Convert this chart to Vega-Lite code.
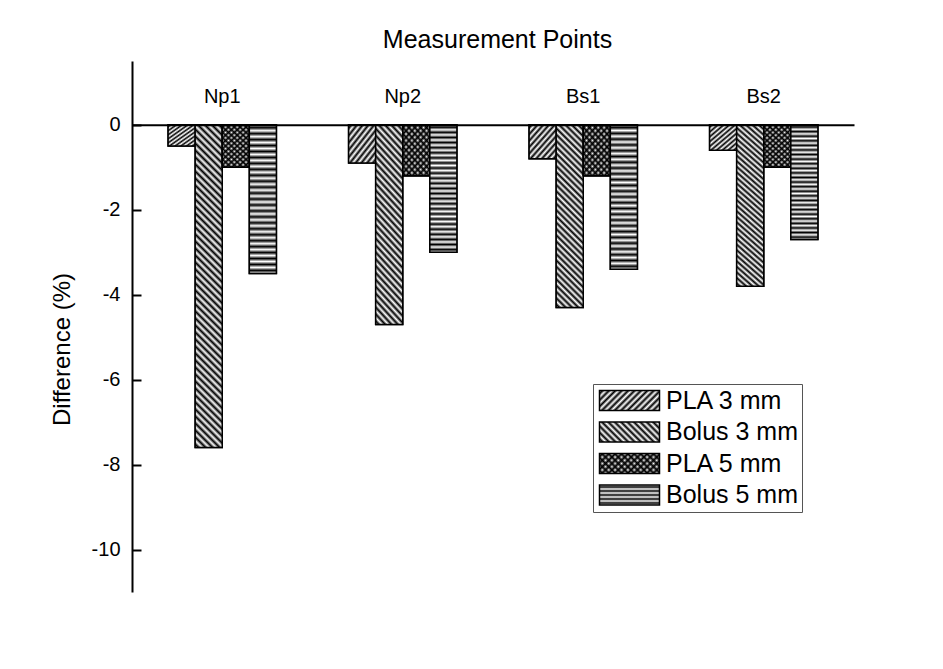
{
"$schema": "https://vega.github.io/schema/vega-lite/v6.json",
"width": 722, "height": 531,
"autosize": "none",
"padding": {"left": 132, "top": 61, "right": 89, "bottom": 77},
"background": "white",
"config": {"font": "Liberation Sans", "view": {"stroke": null}},
"params": [
{"name": "g7", "value": {"gradient":"linear","x1":0,"y1":0,"x2":1.2,"y2":0.4,"stops":[{"offset":0,"color":"white"},{"offset":0.04,"color":"black"},{"offset":0.08,"color":"white"},{"offset":0.12,"color":"black"},{"offset":0.16,"color":"white"},{"offset":0.2,"color":"black"},{"offset":0.24,"color":"white"},{"offset":0.28,"color":"black"},{"offset":0.32,"color":"white"},{"offset":0.36,"color":"black"},{"offset":0.4,"color":"white"},{"offset":0.44,"color":"black"},{"offset":0.48,"color":"white"},{"offset":0.52,"color":"black"},{"offset":0.56,"color":"white"},{"offset":0.6,"color":"black"},{"offset":0.64,"color":"white"},{"offset":0.68,"color":"black"},{"offset":0.72,"color":"white"},{"offset":0.76,"color":"black"},{"offset":0.8,"color":"white"},{"offset":0.84,"color":"black"},{"offset":0.88,"color":"white"},{"offset":0.92,"color":"black"},{"offset":0.96,"color":"white"},{"offset":1,"color":"black"}]}},
{"name": "g7t", "value": {"gradient":"linear","x1":0,"y1":0,"x2":1.2,"y2":0.4,"stops":[{"offset":0,"color":"transparent"},{"offset":0.04,"color":"black"},{"offset":0.08,"color":"transparent"},{"offset":0.12,"color":"black"},{"offset":0.16,"color":"transparent"},{"offset":0.2,"color":"black"},{"offset":0.24,"color":"transparent"},{"offset":0.28,"color":"black"},{"offset":0.32,"color":"transparent"},{"offset":0.36,"color":"black"},{"offset":0.4,"color":"transparent"},{"offset":0.44,"color":"black"},{"offset":0.48,"color":"transparent"},{"offset":0.52,"color":"black"},{"offset":0.56,"color":"transparent"},{"offset":0.6,"color":"black"},{"offset":0.64,"color":"transparent"},{"offset":0.68,"color":"black"},{"offset":0.72,"color":"transparent"},{"offset":0.76,"color":"black"},{"offset":0.8,"color":"transparent"},{"offset":0.84,"color":"black"},{"offset":0.88,"color":"transparent"},{"offset":0.92,"color":"black"},{"offset":0.96,"color":"transparent"},{"offset":1,"color":"black"}]}},
{"name": "g8", "value": {"gradient":"linear","x1":0,"y1":1,"x2":1.2,"y2":0.6,"stops":[{"offset":0,"color":"white"},{"offset":0.04,"color":"black"},{"offset":0.08,"color":"white"},{"offset":0.12,"color":"black"},{"offset":0.16,"color":"white"},{"offset":0.2,"color":"black"},{"offset":0.24,"color":"white"},{"offset":0.28,"color":"black"},{"offset":0.32,"color":"white"},{"offset":0.36,"color":"black"},{"offset":0.4,"color":"white"},{"offset":0.44,"color":"black"},{"offset":0.48,"color":"white"},{"offset":0.52,"color":"black"},{"offset":0.56,"color":"white"},{"offset":0.6,"color":"black"},{"offset":0.64,"color":"white"},{"offset":0.68,"color":"black"},{"offset":0.72,"color":"white"},{"offset":0.76,"color":"black"},{"offset":0.8,"color":"white"},{"offset":0.84,"color":"black"},{"offset":0.88,"color":"white"},{"offset":0.92,"color":"black"},{"offset":0.96,"color":"white"},{"offset":1,"color":"black"}]}},
{"name": "g10", "value": {"gradient":"linear","x1":0,"y1":0,"x2":0,"y2":1,"stops":[{"offset":0,"color":"white"},{"offset":0.1,"color":"black"},{"offset":0.2,"color":"white"},{"offset":0.3,"color":"black"},{"offset":0.4,"color":"white"},{"offset":0.5,"color":"black"},{"offset":0.6,"color":"white"},{"offset":0.7,"color":"black"},{"offset":0.8,"color":"white"},{"offset":0.9,"color":"black"},{"offset":1,"color":"white"}]}}
],
"data": {"values": [
{"point":"Np1","series":"PLA 3 mm","value":-0.5},
{"point":"Np1","series":"Bolus 3 mm","value":-7.6},
{"point":"Np1","series":"PLA 5 mm","value":-1.0},
{"point":"Np1","series":"Bolus 5 mm","value":-3.5},
{"point":"Np2","series":"PLA 3 mm","value":-0.9},
{"point":"Np2","series":"Bolus 3 mm","value":-4.7},
{"point":"Np2","series":"PLA 5 mm","value":-1.2},
{"point":"Np2","series":"Bolus 5 mm","value":-3.0},
{"point":"Bs1","series":"PLA 3 mm","value":-0.8},
{"point":"Bs1","series":"Bolus 3 mm","value":-4.3},
{"point":"Bs1","series":"PLA 5 mm","value":-1.2},
{"point":"Bs1","series":"Bolus 5 mm","value":-3.4},
{"point":"Bs2","series":"PLA 3 mm","value":-0.6},
{"point":"Bs2","series":"Bolus 3 mm","value":-3.8},
{"point":"Bs2","series":"PLA 5 mm","value":-1.0},
{"point":"Bs2","series":"Bolus 5 mm","value":-2.7}
]},
"encoding": {
"x": {"field": "point", "type": "nominal",
 "scale": {"domain": ["Np1","Np2","Bs1","Bs2"], "paddingInner": 0.4, "paddingOuter": 0.2},
 "axis": {"orient": "top", "offset": -63.7, "zindex": 1, "domainColor": "black", "domainWidth": 2, "ticks": false, "tickSize": 0, "labelAngle": 0, "labelFontSize": 20, "labelColor": "black", "labelBaseline": "alphabetic", "labelPadding": 22, "title": "Measurement Points", "titleFontSize": 25, "titleFontWeight": "normal", "titleColor": "black", "titleX": 365, "titleY": -77, "titleBaseline": "alphabetic", "titleAlign": "center", "grid": false}},
"xOffset": {"field": "series", "type": "nominal", "scale": {"domain": ["PLA 3 mm","Bolus 3 mm","PLA 5 mm","Bolus 5 mm"], "paddingInner": 0, "paddingOuter": 0}},
"y": {"field": "value", "type": "quantitative", "scale": {"domain": [-11, 1.5], "nice": false},
 "axis": {"values": [-10,-8,-6,-4,-2,0], "labelExpr": "'' + datum.value", "grid": false, "domainColor": "black", "domainWidth": 2, "tickColor": "black", "tickWidth": 2, "tickSize": -9, "labelFontSize": 20, "labelColor": "black", "labelPadding": 21, "title": "Difference (%)", "titleFontSize": 24, "titleFontWeight": "normal", "titleColor": "black", "titleX": -70, "titleY": 288, "titleAngle": 270, "titleBaseline": "middle", "titleAlign": "center"}}
},
"layer": [
{"mark": {"type": "bar", "strokeWidth": 0},
 "encoding": {"fill": {"field": "series", "type": "nominal",
  "scale": {"domain": ["PLA 3 mm","Bolus 3 mm","PLA 5 mm","Bolus 5 mm"], "range": ["transparent","transparent",{"expr": "g8"},"transparent"]},
  "legend": {"title": null, "orient": "none", "legendX": 461, "legendY": 323, "padding": 4, "strokeColor": "#555", "fillColor": "white", "symbolType": "M-3,-1H3V1H-3Z", "symbolSize": 400, "symbolStrokeColor": "transparent", "symbolStrokeWidth": 1.5, "symbolOffset": 20, "labelOffset": 24, "labelFontSize": 25, "labelColor": "black", "labelOpacity": 0, "labelLimit": 0, "rowPadding": 4.5,
   "encode": {"symbols": {"update": {"stroke": {"value": "transparent"}, "strokeWidth": {"value": 1.5}}}}}}}},
{"mark": {"type": "bar", "stroke": "black", "strokeWidth": 1.5},
 "encoding": {"fill": {"field": "series", "type": "nominal",
  "scale": {"domain": ["PLA 3 mm","Bolus 3 mm","PLA 5 mm","Bolus 5 mm"], "range": [{"expr": "g7"},{"expr": "g8"},{"expr": "g7t"},{"expr": "g10"}]},
  "legend": {"title": null, "orient": "none", "legendX": 461, "legendY": 323, "padding": 4, "strokeColor": "transparent", "fillColor": "transparent", "symbolType": "M-3,-1H3V1H-3Z", "symbolSize": 400, "symbolStrokeColor": "black", "symbolStrokeWidth": 1.5, "symbolOffset": 20, "labelOffset": 24, "labelFontSize": 25, "labelColor": "black", "labelLimit": 0, "rowPadding": 4.5,
   "encode": {"symbols": {"update": {"stroke": {"value": "black"}, "strokeWidth": {"value": 1.5}}}}}}}},
{"transform": [{"filter": {"field": "series", "equal": "PLA 3 mm"}}],
 "mark": {"type": "bar", "stroke": "black", "strokeWidth": 1.5,
  "fill": {"gradient":"linear","x1":0,"y1":0,"x2":0.945,"y2":1.05,"stops":[{"offset":0,"color":"white"},{"offset":0.05,"color":"black"},{"offset":0.1,"color":"white"},{"offset":0.15,"color":"black"},{"offset":0.2,"color":"white"},{"offset":0.25,"color":"black"},{"offset":0.3,"color":"white"},{"offset":0.35,"color":"black"},{"offset":0.4,"color":"white"},{"offset":0.45,"color":"black"},{"offset":0.5,"color":"white"},{"offset":0.55,"color":"black"},{"offset":0.6,"color":"white"},{"offset":0.65,"color":"black"},{"offset":0.7,"color":"white"},{"offset":0.75,"color":"black"},{"offset":0.8,"color":"white"},{"offset":0.85,"color":"black"},{"offset":0.9,"color":"white"},{"offset":0.95,"color":"black"},{"offset":1,"color":"white"}]}}},
{"transform": [{"filter": "datum.series === 'Bolus 3 mm' && datum.point !== 'Np1'"}],
 "mark": {"type": "bar", "stroke": "black", "strokeWidth": 1.5,
  "fill": {"gradient":"linear","x1":0,"y1":1,"x2":0.1657,"y2":-0.1231,"stops":[{"offset":0,"color":"white"},{"offset":0.015,"color":"black"},{"offset":0.03,"color":"white"},{"offset":0.045,"color":"black"},{"offset":0.06,"color":"white"},{"offset":0.075,"color":"black"},{"offset":0.09,"color":"white"},{"offset":0.105,"color":"black"},{"offset":0.12,"color":"white"},{"offset":0.135,"color":"black"},{"offset":0.15,"color":"white"},{"offset":0.165,"color":"black"},{"offset":0.18,"color":"white"},{"offset":0.195,"color":"black"},{"offset":0.21,"color":"white"},{"offset":0.225,"color":"black"},{"offset":0.24,"color":"white"},{"offset":0.255,"color":"black"},{"offset":0.27,"color":"white"},{"offset":0.285,"color":"black"},{"offset":0.3,"color":"white"},{"offset":0.315,"color":"black"},{"offset":0.33,"color":"white"},{"offset":0.345,"color":"black"},{"offset":0.36,"color":"white"},{"offset":0.375,"color":"black"},{"offset":0.39,"color":"white"},{"offset":0.405,"color":"black"},{"offset":0.42,"color":"white"},{"offset":0.435,"color":"black"},{"offset":0.45,"color":"white"},{"offset":0.465,"color":"black"},{"offset":0.48,"color":"white"},{"offset":0.495,"color":"black"},{"offset":0.51,"color":"white"},{"offset":0.525,"color":"black"},{"offset":0.54,"color":"white"},{"offset":0.555,"color":"black"},{"offset":0.57,"color":"white"},{"offset":0.585,"color":"black"},{"offset":0.6,"color":"white"},{"offset":0.615,"color":"black"},{"offset":0.63,"color":"white"},{"offset":0.645,"color":"black"},{"offset":0.66,"color":"white"},{"offset":0.675,"color":"black"},{"offset":0.69,"color":"white"},{"offset":0.705,"color":"black"},{"offset":0.72,"color":"white"},{"offset":0.735,"color":"black"},{"offset":0.75,"color":"white"},{"offset":0.765,"color":"black"},{"offset":0.78,"color":"white"},{"offset":0.795,"color":"black"},{"offset":0.81,"color":"white"},{"offset":0.825,"color":"black"},{"offset":0.84,"color":"white"},{"offset":0.855,"color":"black"},{"offset":0.87,"color":"white"},{"offset":0.885,"color":"black"},{"offset":0.9,"color":"white"},{"offset":0.915,"color":"black"},{"offset":0.93,"color":"white"},{"offset":0.945,"color":"black"},{"offset":0.96,"color":"white"},{"offset":0.975,"color":"black"},{"offset":0.99,"color":"white"}]}}},
{"transform": [{"filter": "datum.series === 'Bolus 3 mm' && datum.point === 'Np1'"}],
 "mark": {"type": "bar", "stroke": "black", "strokeWidth": 1.5,
  "fill": {"gradient":"linear","x1":0,"y1":1,"x2":0.08995,"y2":-0.07608,"stops":[{"offset":0,"color":"white"},{"offset":0.01,"color":"black"},{"offset":0.02,"color":"white"},{"offset":0.03,"color":"black"},{"offset":0.04,"color":"white"},{"offset":0.05,"color":"black"},{"offset":0.06,"color":"white"},{"offset":0.07,"color":"black"},{"offset":0.08,"color":"white"},{"offset":0.09,"color":"black"},{"offset":0.1,"color":"white"},{"offset":0.11,"color":"black"},{"offset":0.12,"color":"white"},{"offset":0.13,"color":"black"},{"offset":0.14,"color":"white"},{"offset":0.15,"color":"black"},{"offset":0.16,"color":"white"},{"offset":0.17,"color":"black"},{"offset":0.18,"color":"white"},{"offset":0.19,"color":"black"},{"offset":0.2,"color":"white"},{"offset":0.21,"color":"black"},{"offset":0.22,"color":"white"},{"offset":0.23,"color":"black"},{"offset":0.24,"color":"white"},{"offset":0.25,"color":"black"},{"offset":0.26,"color":"white"},{"offset":0.27,"color":"black"},{"offset":0.28,"color":"white"},{"offset":0.29,"color":"black"},{"offset":0.3,"color":"white"},{"offset":0.31,"color":"black"},{"offset":0.32,"color":"white"},{"offset":0.33,"color":"black"},{"offset":0.34,"color":"white"},{"offset":0.35,"color":"black"},{"offset":0.36,"color":"white"},{"offset":0.37,"color":"black"},{"offset":0.38,"color":"white"},{"offset":0.39,"color":"black"},{"offset":0.4,"color":"white"},{"offset":0.41,"color":"black"},{"offset":0.42,"color":"white"},{"offset":0.43,"color":"black"},{"offset":0.44,"color":"white"},{"offset":0.45,"color":"black"},{"offset":0.46,"color":"white"},{"offset":0.47,"color":"black"},{"offset":0.48,"color":"white"},{"offset":0.49,"color":"black"},{"offset":0.5,"color":"white"},{"offset":0.51,"color":"black"},{"offset":0.52,"color":"white"},{"offset":0.53,"color":"black"},{"offset":0.54,"color":"white"},{"offset":0.55,"color":"black"},{"offset":0.56,"color":"white"},{"offset":0.57,"color":"black"},{"offset":0.58,"color":"white"},{"offset":0.59,"color":"black"},{"offset":0.6,"color":"white"},{"offset":0.61,"color":"black"},{"offset":0.62,"color":"white"},{"offset":0.63,"color":"black"},{"offset":0.64,"color":"white"},{"offset":0.65,"color":"black"},{"offset":0.66,"color":"white"},{"offset":0.67,"color":"black"},{"offset":0.68,"color":"white"},{"offset":0.69,"color":"black"},{"offset":0.7,"color":"white"},{"offset":0.71,"color":"black"},{"offset":0.72,"color":"white"},{"offset":0.73,"color":"black"},{"offset":0.74,"color":"white"},{"offset":0.75,"color":"black"},{"offset":0.76,"color":"white"},{"offset":0.77,"color":"black"},{"offset":0.78,"color":"white"},{"offset":0.79,"color":"black"},{"offset":0.8,"color":"white"},{"offset":0.81,"color":"black"},{"offset":0.82,"color":"white"},{"offset":0.83,"color":"black"},{"offset":0.84,"color":"white"},{"offset":0.85,"color":"black"},{"offset":0.86,"color":"white"},{"offset":0.87,"color":"black"},{"offset":0.88,"color":"white"},{"offset":0.89,"color":"black"},{"offset":0.9,"color":"white"},{"offset":0.91,"color":"black"},{"offset":0.92,"color":"white"},{"offset":0.93,"color":"black"},{"offset":0.94,"color":"white"},{"offset":0.95,"color":"black"},{"offset":0.96,"color":"white"},{"offset":0.97,"color":"black"},{"offset":0.98,"color":"white"},{"offset":0.99,"color":"black"},{"offset":1,"color":"white"}]}}},
{"transform": [{"filter": {"field": "series", "equal": "PLA 5 mm"}}],
 "mark": {"type": "bar", "stroke": "black", "strokeWidth": 1.5,
  "fill": {"gradient":"linear","x1":0,"y1":0,"x2":0.6928,"y2":1.1803,"stops":[{"offset":0,"color":"white"},{"offset":0.04,"color":"black"},{"offset":0.08,"color":"white"},{"offset":0.12,"color":"black"},{"offset":0.16,"color":"white"},{"offset":0.2,"color":"black"},{"offset":0.24,"color":"white"},{"offset":0.28,"color":"black"},{"offset":0.32,"color":"white"},{"offset":0.36,"color":"black"},{"offset":0.4,"color":"white"},{"offset":0.44,"color":"black"},{"offset":0.48,"color":"white"},{"offset":0.52,"color":"black"},{"offset":0.56,"color":"white"},{"offset":0.6,"color":"black"},{"offset":0.64,"color":"white"},{"offset":0.68,"color":"black"},{"offset":0.72,"color":"white"},{"offset":0.76,"color":"black"},{"offset":0.8,"color":"white"},{"offset":0.84,"color":"black"},{"offset":0.88,"color":"white"},{"offset":0.92,"color":"black"},{"offset":0.96,"color":"white"},{"offset":1,"color":"black"}]}}},
{"transform": [{"filter": {"field": "series", "equal": "PLA 5 mm"}}],
 "mark": {"type": "bar", "stroke": "black", "strokeWidth": 1.5,
  "fill": {"gradient":"linear","x1":0,"y1":1,"x2":0.6928,"y2":-0.1803,"stops":[{"offset":0,"color":"transparent"},{"offset":0.04,"color":"black"},{"offset":0.08,"color":"transparent"},{"offset":0.12,"color":"black"},{"offset":0.16,"color":"transparent"},{"offset":0.2,"color":"black"},{"offset":0.24,"color":"transparent"},{"offset":0.28,"color":"black"},{"offset":0.32,"color":"transparent"},{"offset":0.36,"color":"black"},{"offset":0.4,"color":"transparent"},{"offset":0.44,"color":"black"},{"offset":0.48,"color":"transparent"},{"offset":0.52,"color":"black"},{"offset":0.56,"color":"transparent"},{"offset":0.6,"color":"black"},{"offset":0.64,"color":"transparent"},{"offset":0.68,"color":"black"},{"offset":0.72,"color":"transparent"},{"offset":0.76,"color":"black"},{"offset":0.8,"color":"transparent"},{"offset":0.84,"color":"black"},{"offset":0.88,"color":"transparent"},{"offset":0.92,"color":"black"},{"offset":0.96,"color":"transparent"},{"offset":1,"color":"black"}]}}},
{"transform": [{"filter": {"field": "series", "equal": "Bolus 5 mm"}}],
 "mark": {"type": "bar", "stroke": "black", "strokeWidth": 1.5,
  "fill": {"gradient":"linear","x1":0,"y1":0,"x2":0,"y2":1,"stops":[{"offset":0,"color":"white"},{"offset":0.02,"color":"black"},{"offset":0.04,"color":"white"},{"offset":0.06,"color":"black"},{"offset":0.08,"color":"white"},{"offset":0.1,"color":"black"},{"offset":0.12,"color":"white"},{"offset":0.14,"color":"black"},{"offset":0.16,"color":"white"},{"offset":0.18,"color":"black"},{"offset":0.2,"color":"white"},{"offset":0.22,"color":"black"},{"offset":0.24,"color":"white"},{"offset":0.26,"color":"black"},{"offset":0.28,"color":"white"},{"offset":0.3,"color":"black"},{"offset":0.32,"color":"white"},{"offset":0.34,"color":"black"},{"offset":0.36,"color":"white"},{"offset":0.38,"color":"black"},{"offset":0.4,"color":"white"},{"offset":0.42,"color":"black"},{"offset":0.44,"color":"white"},{"offset":0.46,"color":"black"},{"offset":0.48,"color":"white"},{"offset":0.5,"color":"black"},{"offset":0.52,"color":"white"},{"offset":0.54,"color":"black"},{"offset":0.56,"color":"white"},{"offset":0.58,"color":"black"},{"offset":0.6,"color":"white"},{"offset":0.62,"color":"black"},{"offset":0.64,"color":"white"},{"offset":0.66,"color":"black"},{"offset":0.68,"color":"white"},{"offset":0.7,"color":"black"},{"offset":0.72,"color":"white"},{"offset":0.74,"color":"black"},{"offset":0.76,"color":"white"},{"offset":0.78,"color":"black"},{"offset":0.8,"color":"white"},{"offset":0.82,"color":"black"},{"offset":0.84,"color":"white"},{"offset":0.86,"color":"black"},{"offset":0.88,"color":"white"},{"offset":0.9,"color":"black"},{"offset":0.92,"color":"white"},{"offset":0.94,"color":"black"},{"offset":0.96,"color":"white"},{"offset":0.98,"color":"black"},{"offset":1,"color":"white"}]}}}
],
"resolve": {"scale": {"fill": "independent"}, "legend": {"fill": "independent"}}
}
